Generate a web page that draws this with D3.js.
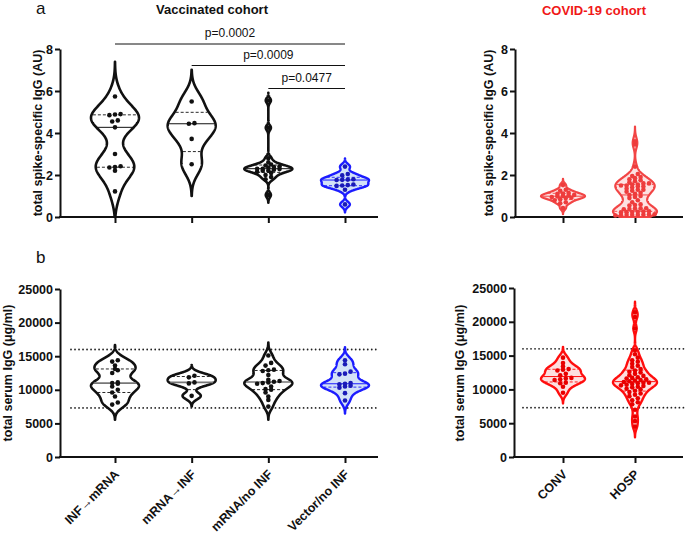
<!DOCTYPE html>
<html><head><meta charset="utf-8">
<script src="https://cdn.jsdelivr.net/npm/d3@7"></script>
<style>body{margin:0;background:#fff} text{font-family:"Liberation Sans",Arial,Helvetica,sans-serif}</style>
</head><body><svg id="c" width="685" height="537"></svg>
<script>
// ---------------- DATA ----------------
const vacCategories = ["INF\u2192mRNA", "mRNA\u2192INF", "mRNA/no INF", "Vector/no INF"];
const covCategories = ["CONV", "HOSP"];

// total spike-specific IgG (AU)
const spikeInfMrna   = [5.74, 4.9, 4.88, 4.85, 4.6, 4.55, 4.27, 3.0, 2.42, 2.38, 2.36, 2.2, 1.22];
const spikeMrnaInf   = [5.5, 4.47, 4.44, 3.72, 2.51];
const spikeMrnaNoInf = [5.55, 4.25, 2.8, 2.6, 2.5, 2.45, 2.4, 2.38, 2.35, 2.3, 2.3, 2.28, 2.25, 2.2, 2.2, 2.15, 2.1, 2.0, 1.9, 1.8, 1.05];
const spikeVectorNoInf = [2.4, 2.05, 1.98, 1.8, 1.78, 1.77, 1.76, 1.55, 1.52, 1.5, 1.48, 1.3, 0.6];
const spikeConv = [1.52, 1.3, 1.25, 1.15, 1.12, 1.1, 1.05, 1.02, 1.0, 0.98, 0.95, 0.92, 0.9, 0.85, 0.8, 0.7, 0.65, 0.43];
const spikeHosp = [3.6, 3.45, 2.4, 2.05, 1.95, 1.9, 1.85, 1.8, 1.75, 1.7, 1.65, 1.6, 1.6, 1.55, 1.55, 1.5, 1.5, 1.45, 1.45, 1.4,
  1.35, 1.3, 1.3, 1.25, 1.2, 1.15, 1.1, 1.05, 1.0, 0.95, 0.9, 0.8, 0.7,
  0.6, 0.57, 0.55, 0.42, 0.41, 0.4, 0.38, 0.37, 0.27, 0.26, 0.25, 0.24, 0.23, 0.22,
  0.13, 0.12, 0.11, 0.1, 0.1, 0.09, 0.08, 0.07];

// total serum IgG (µg/ml)
const serumInfMrna   = [14400, 14200, 13600, 13100, 12900, 12500, 11100, 11000, 10900, 10500, 10000, 9600, 9000, 8100, 7800];
const serumMrnaInf   = [12100, 11850, 11100, 10950, 9100];
const serumMrnaNoInf = [15100, 14000, 13600, 13000, 12900, 12800, 12200, 11500, 11300, 11200, 11100, 11000, 10900, 10500, 10100, 10000, 9600, 9000, 8500, 7500];
const serumVectorNoInf = [14400, 13800, 12700, 12400, 12300, 11000, 10900, 10800, 10600, 10500, 10300, 9500, 8400];
const serumConv = [14700, 13900, 13400, 13000, 12900, 12800, 12300, 12100, 11700, 11600, 11500, 11400, 11000, 10900, 10400, 9500];
const serumHosp = [21400, 20700, 19000, 15800, 15200, 14700, 14300, 14100, 13800, 13500, 13300, 13000, 12800, 12600, 12500, 12300,
  12100, 12000, 11800, 11700, 11600, 11500, 11400, 11300, 11200, 11100, 11000, 11000, 10900, 10800, 10700, 10600, 10500,
  10400, 10300, 10100, 10000, 9800, 9600, 9400, 9200, 9000, 8700, 8400, 8100, 7800, 7000, 6000, 5300, 4500];

const spikeTicks = [0, 2, 4, 6, 8];
const serumTicks = [0, 5000, 10000, 15000, 20000, 25000];
const serumRefLines = [16000, 7300];
const sigFrom = [0, 1, 2];
const sigTo = [3, 3, 3];
const sigLabels = ["p=0.0002", "p=0.0009", "p=0.0477"];

// ---------------- HELPERS ----------------
const svg = d3.select("#c");
const BLACK = "#111";
const styles = {
  black: {stroke: "#111", fill: "#fff", dot: "#111", sw: 2.6},
  blue: {stroke: "#1c1cff", fill: "#d3e2f7", dot: "#1a1ab8", sw: 2.4},
  redTop: {stroke: "#f24545", fill: "#fde1e1", dot: "#ee3c3c", sw: 2.2},
  redBot: {stroke: "#ff0d0d", fill: "#fde0e0", dot: "#e80000", sw: 2.4}
};

function prismQ(s, p) {
  const n = s.length; let pos = (n + 1) * p;
  if (pos < 1) pos = 1; if (pos > n) pos = n;
  const lo = Math.floor(pos), f = pos - lo;
  return lo >= n ? s[n - 1] : s[lo - 1] + f * (s[lo] - s[lo - 1]);
}
function silverman(v) {
  const s = [...v].sort(d3.ascending);
  const sd = d3.deviation(s);
  const iqr = prismQ(s, 0.75) - prismQ(s, 0.25);
  const m = iqr > 0 ? Math.min(sd, iqr / 1.34) : sd;
  return 0.9 * m * Math.pow(s.length, -0.2);
}

function violin(g, values, cx, y, st, opt) {
  opt = opt || {};
  const s = [...values].sort(d3.ascending);
  const h = silverman(s) * (opt.bw || 0.7);
  let lo = s[0] - 3 * h, hi = s[s.length - 1] + 3 * h;
  if (opt.floor != null) lo = Math.max(lo, opt.floor);
  const N = 300;
  const grid = d3.range(N + 1).map(i => lo + (hi - lo) * i / N);
  const dens = grid.map(t => d3.sum(s, v => Math.exp(-0.5 * ((t - v) / h) ** 2)));
  const mx = d3.max(dens);
  const half = opt.half || 24;
  const pts = grid.map((t, i) => ({t, w: dens[i] / mx * half}));
  const wAt = t => { const i = d3.bisector(d => d.t).left(pts, t); const p = pts[Math.min(i, pts.length - 1)]; return p.w; };

  g.append("path").datum(pts)
    .attr("d", d3.area().y(d => y(d.t)).x0(d => cx - d.w).x1(d => cx + d.w).curve(d3.curveLinear))
    .attr("fill", st.fill).attr("stroke", st.stroke).attr("stroke-width", st.sw).attr("stroke-linejoin", "round");

  const q = [prismQ(s, 0.25), prismQ(s, 0.5), prismQ(s, 0.75)];
  q.forEach((v, i) => {
    const w = Math.max(wAt(v) - 1.2, 0);
    g.append("line").attr("x1", cx - w).attr("x2", cx + w).attr("y1", y(v)).attr("y2", y(v))
      .attr("stroke", i === 1 ? (opt.medColor || st.stroke) : st.stroke)
      .attr("stroke-width", i === 1 ? (opt.medW || 1) : 0.9)
      .attr("stroke-dasharray", i === 1 ? null : "3,2");
  });

  // dots arranged in rows
  const dp = s.map(v => ({v, py: y(v)})).sort((p1, p2) => p2.py - p1.py);
  const rows = []; let cur = null;
  dp.forEach(p => { if (!cur || Math.abs(p.py - cur.start) > 2.8) { cur = {start: p.py, items: []}; rows.push(cur); } cur.items.push(p); });
  rows.forEach(r => { const k = r.items.length; r.items.forEach((p, i) => { p.px = cx + (i - (k - 1) / 2) * 5.6; }); });
  g.selectAll(null).data(dp).enter().append("circle")
    .attr("cx", d => d.px).attr("cy", d => d.py).attr("r", 2.3).attr("fill", st.dot);
}

function yAxis(x0, y, ticks, fmt) {
  const g = svg.append("g").attr("transform", `translate(${x0},0)`)
    .call(d3.axisLeft(y).tickValues(ticks).tickFormat(fmt || d3.format("d")).tickSize(5).tickSizeOuter(0).tickPadding(2));
  g.select(".domain").attr("stroke", BLACK).attr("stroke-width", 2);
  g.selectAll(".tick line").attr("stroke", BLACK).attr("stroke-width", 2);
  g.selectAll(".tick text").attr("fill", BLACK).style("font-size", "12.5px").style("font-weight", "bold")
    .style("font-family", "'Liberation Sans', Arial, sans-serif");
  return g;
}
function xAxis(y0, xa, xb, xs) {
  const g = svg.append("g").attr("transform", `translate(0,${y0})`)
    .call(d3.axisBottom(xs).tickSize(6).tickSizeOuter(0).tickFormat(""));
  g.select(".domain").remove();
  g.selectAll(".tick line").attr("stroke", BLACK).attr("stroke-width", 2);
  g.append("line").attr("x1", xa - 1).attr("x2", xb).attr("stroke", BLACK).attr("stroke-width", 2);
  return g;
}
function yTitle(x, yc, txt) {
  svg.append("text").attr("transform", `translate(${x},${yc}) rotate(-90)`).attr("text-anchor", "middle")
    .style("font-size", "12.5px").style("font-weight", "bold").attr("fill", BLACK).text(txt);
}

// ---------------- SCALES ----------------
const xVac = d3.scalePoint().domain(vacCategories).range([115, 345]);
const xCov = d3.scalePoint().domain(covCategories).range([563, 635]);
const ySpikeL = d3.scaleLinear().domain([0, 8]).range([217, 49]);
const ySerumL = d3.scaleLinear().domain([0, 25000]).range([457, 289]);

// ---------------- TITLES ----------------
svg.append("text").attr("x", 36).attr("y", 14).style("font-size", "17px").attr("fill", BLACK).text("a");
svg.append("text").attr("x", 36).attr("y", 263).style("font-size", "17px").attr("fill", BLACK).text("b");
svg.append("text").attr("x", 212).attr("y", 14).attr("text-anchor", "middle").style("font-size", "13px").style("font-weight", "bold").attr("fill", BLACK).text("Vaccinated cohort");
svg.append("text").attr("x", 594).attr("y", 15).attr("text-anchor", "middle").style("font-size", "13px").style("font-weight", "bold").attr("fill", "#f01818").text("COVID-19 cohort");

// ---------------- PANEL a ----------------
const spikeVac = [spikeInfMrna, spikeMrnaInf, spikeMrnaNoInf, spikeVectorNoInf];
const spikeCov = [spikeConv, spikeHosp];
const vacStyle = ["black", "black", "black", "blue"];
const bwSpikeVac = [0.72, 0.7, 0.95, 0.8];
const bwSpikeCov = [0.9, 0.72];
const bwSerumVac = [0.67, 0.68, 0.68, 0.75];
const bwSerumCov = [0.76, 0.55];

yTitle(42, 133, "total spike-specific IgG (AU)");
yAxis(60, ySpikeL, spikeTicks);
xAxis(217, 60, 378, xVac);
const gA = svg.append("g");
spikeVac.forEach((v, i) => violin(gA, v, xVac(vacCategories[i]), ySpikeL, styles[vacStyle[i]], {bw: bwSpikeVac[i], floor: 0}));

// significance bars
const sigY = [44, 65.5, 88.5];
sigFrom.forEach((f, i) => {
  const x1 = xVac(vacCategories[f]), x2 = xVac(vacCategories[sigTo[i]]);
  svg.append("line").attr("x1", x1).attr("x2", x2).attr("y1", sigY[i]).attr("y2", sigY[i]).attr("stroke", BLACK).attr("stroke-width", 1);
  svg.append("text").attr("x", (x1 + x2) / 2).attr("y", sigY[i] - 7).attr("text-anchor", "middle")
    .style("font-size", "12px").attr("fill", BLACK).text(sigLabels[i]);
});

const ySpikeR = d3.scaleLinear().domain([0, 8]).range([217, 49]);
yTitle(493, 133, "total spike-specific IgG (AU)");
yAxis(515, ySpikeR, spikeTicks);
xAxis(217, 515, 683, xCov);
const gA2 = svg.append("g");
spikeCov.forEach((v, i) => violin(gA2, v, xCov(covCategories[i]), ySpikeR, styles.redTop, {half: 22, floor: 0, bw: bwSpikeCov[i]}));

// ---------------- PANEL b ----------------
const serumVac = [serumInfMrna, serumMrnaInf, serumMrnaNoInf, serumVectorNoInf];
const serumCov = [serumConv, serumHosp];
const ySerumR = d3.scaleLinear().domain([0, 25000]).range([457, 288]);

function refLines(xa, xb, y) {
  serumRefLines.forEach(v => svg.append("line").attr("x1", xa).attr("x2", xb).attr("y1", y(v)).attr("y2", y(v))
    .attr("stroke", "#222").attr("stroke-width", 1.8).attr("stroke-linecap", "round").attr("stroke-dasharray", "0.01,4"));
}

yTitle(12, 373, "total serum IgG (\u03bcg/ml)");
yAxis(60, ySerumL, serumTicks);
xAxis(457, 60, 378, xVac);
refLines(71, 379, ySerumL);
const gB = svg.append("g");
serumVac.forEach((v, i) => violin(gB, v, xVac(vacCategories[i]), ySerumL, styles[vacStyle[i]],
  {bw: bwSerumVac[i], medColor: vacStyle[i] === "black" ? "#777" : null, medW: vacStyle[i] === "black" ? 1.6 : 1}));

yTitle(464, 373, "total serum IgG (\u03bcg/ml)");
yAxis(514, ySerumR, serumTicks);
xAxis(457, 514, 683, xCov);
refLines(523, 684, ySerumR);
const gB2 = svg.append("g");
serumCov.forEach((v, i) => violin(gB2, v, xCov(covCategories[i]), ySerumR, styles.redBot, {half: 22, bw: bwSerumCov[i]}));

// category labels (rotated)
function catLabels(xs, cats) {
  svg.selectAll(null).data(cats).enter().append("text")
    .attr("transform", d => `translate(${xs(d) + 5},${475}) rotate(-45)`)
    .attr("text-anchor", "end").style("font-size", "12.5px").style("font-weight", "bold").attr("fill", BLACK).text(d => d);
}
catLabels(xVac, vacCategories);
catLabels(xCov, covCategories);
</script></body></html>
